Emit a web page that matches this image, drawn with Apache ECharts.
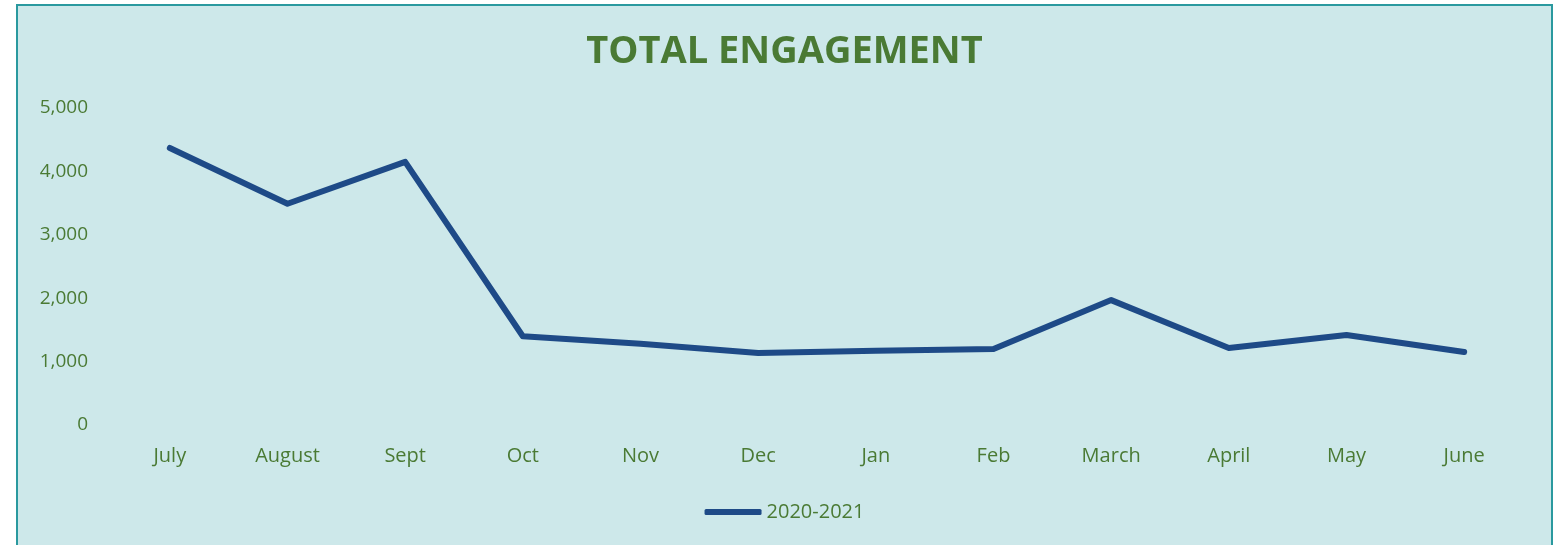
<!DOCTYPE html>
<html>
<head>
<meta charset="utf-8">
<script src="https://cdn.jsdelivr.net/npm/echarts@6/dist/echarts.min.js"></script>
<style>
  body { margin: 0; background: #ffffff; }
  #frame {
    position: absolute; left: 16px; top: 4px;
    width: 1533px; height: 560px;
    border: 2px solid #2a999f;
    background: #cde8ea;
  }
  #chart { width: 1533px; height: 560px; }
</style>
</head>
<body>
<div id="frame"><div id="chart"></div></div>
<script>
// months of the 2020-2021 season
const months = ['July', 'August', 'Sept', 'Oct', 'Nov', 'Dec', 'Jan', 'Feb', 'March', 'April', 'May', 'June'];
const engagement = [4370, 3490, 4150, 1400, 1280, 1135, 1170, 1200, 1970, 1215, 1420, 1150];
const seriesName = '2020-2021';
const yTicks = { min: 0, max: 5000, interval: 1000 };

const green = '#4a7a34';
const blue = '#1e4a87';
const font = '"Open Sans", sans-serif';

const chart = echarts.init(document.getElementById('chart'));
chart.setOption({
  animation: false,
  title: {
    text: 'TOTAL ENGAGEMENT',
    left: 'center',
    top: 22,
    textStyle: { color: green, fontSize: 38, fontWeight: 'bold', fontFamily: font }
  },
  legend: {
    data: [seriesName],
    left: 'center',
    top: 491,
    icon: 'roundRect',
    itemWidth: 57,
    itemHeight: 6,
    itemGap: 4,
    textStyle: { color: green, fontSize: 20, fontFamily: font }
  },
  grid: { left: 93, top: 102, width: 1412, height: 317 },
  xAxis: {
    type: 'category',
    data: months,
    boundaryGap: true,
    axisLine: { show: false },
    axisTick: { show: false },
    axisLabel: { color: green, fontSize: 20, fontFamily: font, margin: 21 }
  },
  yAxis: {
    type: 'value',
    min: yTicks.min,
    max: yTicks.max,
    interval: yTicks.interval,
    splitLine: { show: false },
    axisLine: { show: false },
    axisTick: { show: false },
    axisLabel: {
      color: green, fontSize: 19, fontFamily: font, margin: 23,
      formatter: v => v.toLocaleString('en-US')
    }
  },
  series: [{
    name: seriesName,
    type: 'line',
    data: engagement,
    showSymbol: false,
    symbol: 'none',
    itemStyle: { color: blue },
    lineStyle: { color: blue, width: 6, cap: 'round', join: 'round' }
  }]
});
</script>
</body>
</html>
